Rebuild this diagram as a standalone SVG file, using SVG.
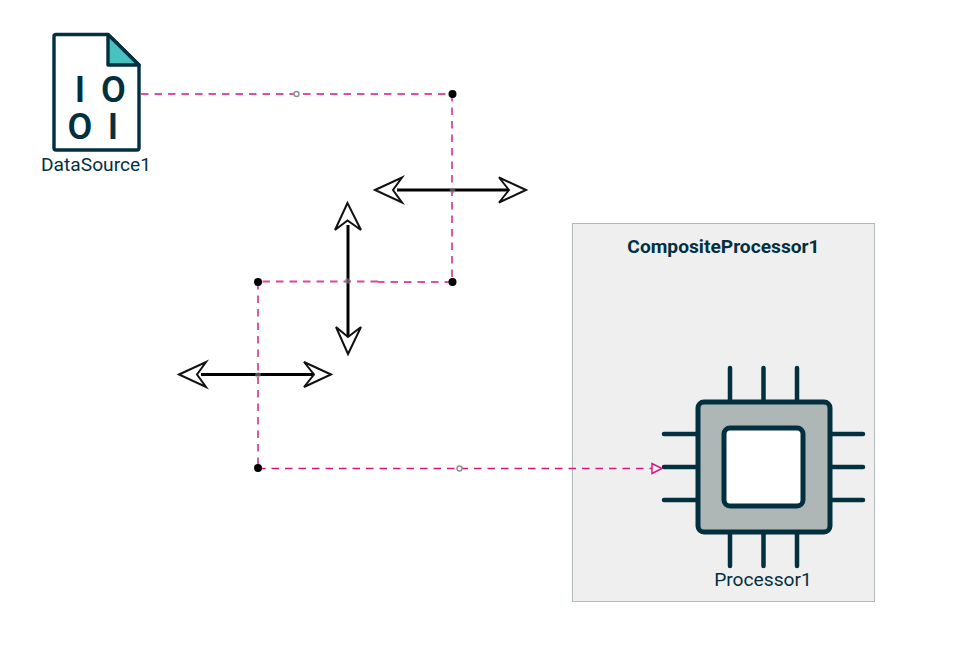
<svg xmlns="http://www.w3.org/2000/svg" width="957" height="650" viewBox="0 0 957 650">
<style>
.lbl{font-family:Roboto,"Liberation Sans",sans-serif;fill:#02303f;text-anchor:middle}
.bit{font-family:Roboto,"Liberation Sans",sans-serif;font-size:36px;font-weight:600;fill:#02303f;text-anchor:middle}
.ic{stroke:#02303f;stroke-width:3.400;stroke-linejoin:round;stroke-linecap:round}
.pin{stroke:#02303f;stroke-width:4.500;stroke-linecap:round;fill:none}
.wire{fill:none;stroke:#d5167f;stroke-width:1.400;stroke-dasharray:7.500 6}
.wire2{fill:none;stroke:#d6499a;stroke-width:1.800;stroke-dasharray:7.500 6}
.dot{fill:#000}
.mid{fill:#fff;stroke:#8f8f8f;stroke-width:1.400}
.cross{fill:#888;fill-opacity:.6}
.shaft{stroke:#000;stroke-width:3;fill:none}
.head{fill:#fff;stroke:#111;stroke-width:2;stroke-linejoin:miter}
</style>
<g id="CompositeProcessor1">
<rect x="572.500" y="223.500" width="302" height="378" fill="#efefef" stroke="#b1baba" stroke-width="1"/>
<text class="lbl" x="723.500" y="253" font-size="19.200" font-weight="700">CompositeProcessor1</text>
</g>
<g id="DataSource1">
<path class="ic" d="M108 34.500H56Q54 34.500 54 36.500V148Q54 150 56 150H137Q139 150 139 148V65Z" fill="#fff"/>
<path class="ic" d="M108 34.500L139 65H108Z" fill="#48c1c1"/>
<text class="bit" x="80" y="102">I</text>
<text class="bit" x="113.500" y="102">O</text>
<text class="bit" x="80" y="139">O</text>
<text class="bit" x="113" y="139">I</text>
<text class="lbl" x="96" y="171" font-size="19.200">DataSource1</text>
</g>
<g id="Processor1">
<path class="pin" d="M730 368V400M763.500 368V400M797 368V400M730 534V566M763.500 534V566M797 534V566M664 434H696M664 467H696M664 500H696M832 434H863M832 467H863M832 500H863"/>
<rect x="698" y="402" width="132" height="130" rx="6" fill="#aeb6b6" stroke="#02303f" stroke-width="5"/>
<rect x="724" y="428" width="79" height="78" rx="6" fill="#fff" stroke="#02303f" stroke-width="5"/>
<text class="lbl" x="763" y="586" font-size="19.200">Processor1</text>
</g>
<g id="connectors">
<path class="wire" d="M141 94H452"/>
<path class="wire2" d="M452 94V282"/>
<path class="wire" d="M452 282H378"/>
<path class="wire2" d="M378 281.500H258"/>
<path class="wire2" d="M258 282V468"/>
<path class="wire" d="M258 468.500H652"/>
<path d="M652 463.500L662 468.500L652 473.500Z" fill="none" stroke="#d5167f" stroke-width="1.400"/>
<circle class="mid" cx="296.500" cy="94" r="2.500"/>
<circle class="mid" cx="459.500" cy="468.500" r="2.500"/>
<circle class="dot" cx="452.500" cy="94" r="4"/>
<circle class="dot" cx="452.500" cy="282" r="4"/>
<circle class="dot" cx="258" cy="282" r="4"/>
<circle class="dot" cx="258" cy="468" r="4"/>
<g id="handle-h1">
<path class="shaft" d="M397 190H509"/>
<path class="head" d="M375 190L402 177.500L393 190L402 202.500Z"/>
<path class="head" d="M526 190L499 177.500L509 190L499 202.500Z"/>
</g>
<g id="handle-v">
<path class="shaft" d="M348 225V336"/>
<path class="head" d="M347.500 203L335 230L347.500 220.500L361 230Z"/>
<path class="head" d="M348 354L336 327L348 337L361 327Z"/>
</g>
<g id="handle-h2">
<path class="shaft" d="M201 374.500H313"/>
<path class="head" d="M179 374.500L206 362L197 374.500L206 387Z"/>
<path class="head" d="M331 374.500L304 362L314 374.500L304 387Z"/>
</g>
<circle class="cross" cx="452.500" cy="190.500" r="2.800"/>
<circle class="cross" cx="347.500" cy="281" r="2.800"/>
<circle class="cross" cx="258" cy="375" r="2.800"/>
</g>
</svg>
